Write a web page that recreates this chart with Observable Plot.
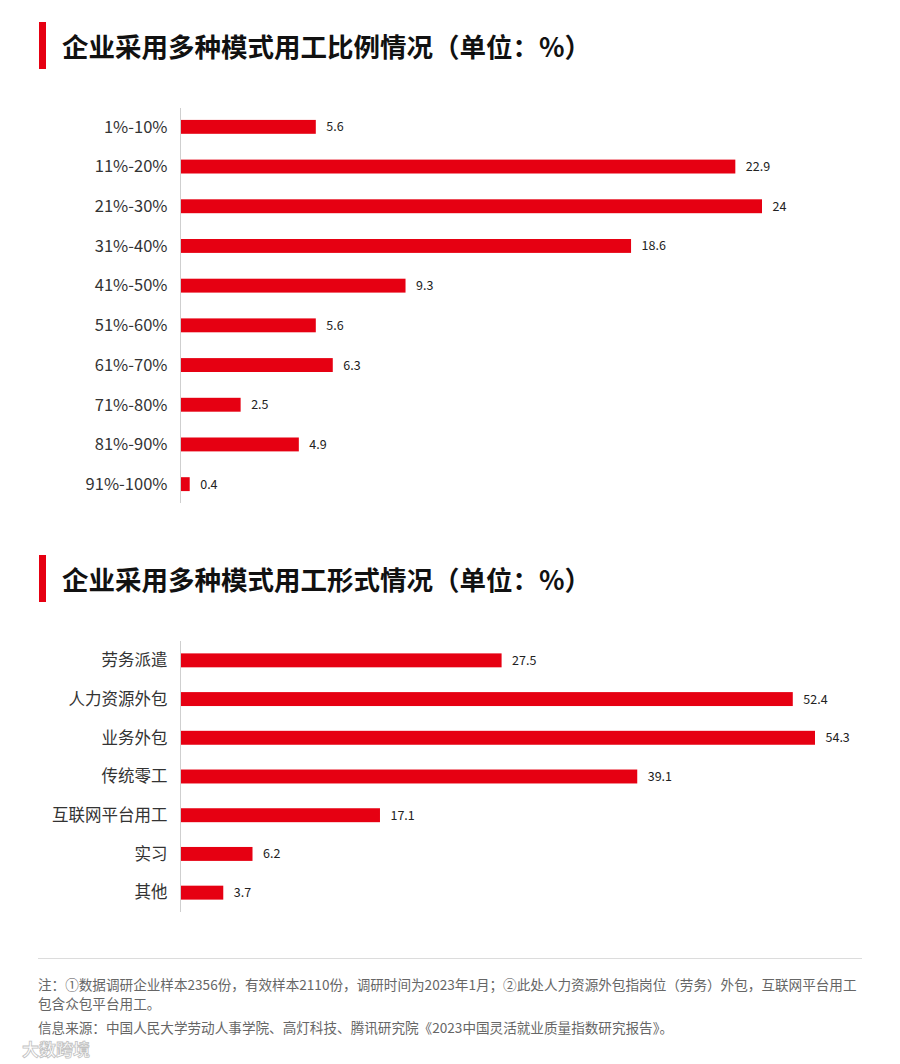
<!DOCTYPE html>
<html>
<head>
<meta charset="utf-8">
<script src="https://cdn.jsdelivr.net/npm/d3@7"></script>
<script src="https://cdn.jsdelivr.net/npm/@observablehq/plot@0.6"></script>
<style>
  html, body { margin: 0; padding: 0; background: #fff; }
  body { width: 900px; height: 1064px; position: relative; overflow: hidden;
         font-family: "Noto Sans CJK SC", "Noto Sans", sans-serif; }
  .tbar { position: absolute; left: 39px; width: 7px; height: 47px; background: #e60012; }
  .title { position: absolute; left: 62px; font-size: 26.5px; font-weight: 700; color: #111;
           line-height: 47px; height: 47px; white-space: nowrap; }
  .chart { position: absolute; left: 0; }
  .hr { position: absolute; left: 38px; width: 824px; top: 958px; height: 1px; background: #dcdcdc; }
  .note { position: absolute; left: 38px; font-size: 13.6px; color: #666; white-space: nowrap; line-height: 19px; }
  .wm { position: absolute; left: 22px; top: 1039px; font-size: 17px; line-height: 20px; font-weight: 700; color: #fff;
        -webkit-text-stroke: 0.8px #bbb; opacity: 0.9; }
</style>
</head>
<body>
<div class="tbar" style="top:22px"></div>
<div class="title" style="top:22px">企业采用多种模式用工比例情况（单位：%）</div>
<div id="c1" class="chart" style="top:88px"></div>

<div class="tbar" style="top:555px"></div>
<div class="title" style="top:555px">企业采用多种模式用工形式情况（单位：%）</div>
<div id="c2" class="chart" style="top:621px"></div>

<div class="hr"></div>
<div class="note" style="top:975px">注：①数据调研企业样本2356份，有效样本2110份，调研时间为2023年1月；②此处人力资源外包指岗位（劳务）外包，互联网平台用工<br>包含众包平台用工。</div>
<div class="note" style="top:1018px">信息来源：中国人民大学劳动人事学院、高灯科技、腾讯研究院《2023中国灵活就业质量指数研究报告》。</div>
<div class="wm">大数跨境</div>

<script>
const ratioCategories = ["1%-10%", "11%-20%", "21%-30%", "31%-40%", "41%-50%", "51%-60%", "61%-70%", "71%-80%", "81%-90%", "91%-100%"];
const ratioValues = [5.6, 22.9, 24, 18.6, 9.3, 5.6, 6.3, 2.5, 4.9, 0.4];

const formCategories = ["劳务派遣", "人力资源外包", "业务外包", "传统零工", "互联网平台用工", "实习", "其他"];
const formValues = [27.5, 52.4, 54.3, 39.1, 17.1, 6.2, 3.7];

const RED = "#e60012";
const FONT = "'Noto Sans CJK SC', 'Noto Sans', sans-serif";

function barChart(cats, vals, opts) {
  const data = cats.map((c, i) => ({cat: c, val: vals[i]}));
  return Plot.plot({
    width: 900,
    height: opts.height,
    marginLeft: 180,
    marginRight: opts.marginRight,
    marginTop: 20,
    marginBottom: 10,
    style: {fontFamily: FONT, fontSize: "16.5px", color: "#333", background: "#fff"},
    x: {domain: [0, d3.max(vals)], axis: null},
    y: {domain: cats, paddingInner: opts.pi, paddingOuter: opts.po, round: false, label: null},
    marks: [
      Plot.axisY({tickSize: 0, tickPadding: 13, fontSize: 16.5, label: null, fill: "#333"}),
      Plot.barX(data, {x: "val", y: "cat", fill: RED}),
      Plot.text(data, {x: "val", y: "cat", text: d => String(d.val), dx: 10, textAnchor: "start", fontSize: 12.5, fill: "#222"}),
      Plot.ruleX([0], {stroke: "#cfcfcf", strokeWidth: 1})
    ]
  });
}

document.getElementById("c1").appendChild(
  barChart(ratioCategories, ratioValues, {height: 425, marginRight: 138, pi: 0.65, po: 0.3})
);
document.getElementById("c2").appendChild(
  barChart(formCategories, formValues, {height: 301, marginRight: 85, pi: 0.64, po: 0.32})
);
</script>
</body>
</html>
